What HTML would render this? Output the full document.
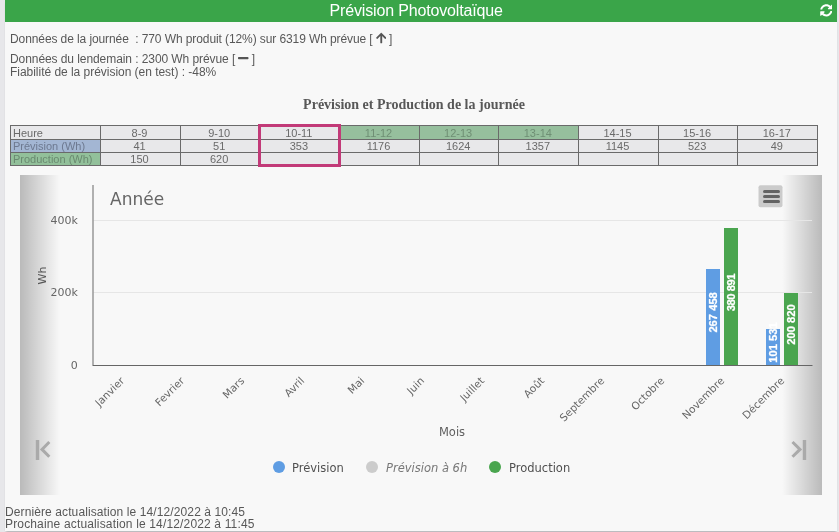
<!DOCTYPE html>
<html lang="fr">
<head>
<meta charset="utf-8">
<title>Prévision Photovoltaïque</title>
<style>
html,body{margin:0;padding:0;}
body{width:839px;height:532px;overflow:hidden;background:#e7e7ea;font-family:"Liberation Sans",Arial,sans-serif;color:#5a5a5a;font-size:12px;position:relative;}
#panel{position:absolute;left:5px;top:0;width:832px;height:531px;background:#f8f8f8;box-shadow:0 1.5px 2px -1px rgba(0,0,0,.27);will-change:transform;}
#hdr{position:absolute;left:0;top:0;width:832px;height:22px;background:#3aa549;color:#fff;text-align:center;font-size:16px;line-height:21px;}
#hdr span{position:absolute;left:324.6px;top:-0.5px;letter-spacing:-0.16px;white-space:nowrap;}
#refresh{position:absolute;left:814.8px;top:4.1px;width:12.6px;height:12.6px;}
.ln{position:absolute;left:5px;white-space:nowrap;font-size:12px;line-height:14px;color:#585858;transform-origin:0 50%;}
#ttl{position:absolute;left:0;width:818px;top:97px;text-align:center;font-family:"Liberation Serif","Times New Roman",serif;font-weight:bold;font-size:14px;line-height:16px;color:#585858;}
table{position:absolute;left:5px;top:125px;border-collapse:collapse;table-layout:fixed;width:808px;}
td{border:1px solid #6a6a6a;height:12px;padding:0;line-height:12px;font-size:11px;text-align:center;background:#e8e8ea;color:#6a6a6a;overflow:hidden;white-space:nowrap;}
td{padding-right:1.6px;}
td.h{text-align:left;padding-left:2px;padding-right:0;}
td.g{background:#96bf9d;color:#6f8f74;}
td.b{background:#a3b6d3;color:#6d7990;}
td.p{background:#92c09a;color:#6a8a70;}
#hl{position:absolute;left:253px;top:124px;width:77px;height:37px;border:3px solid #c23a78;}
#chart{position:absolute;left:15px;top:176px;width:802px;height:319px;}
#gl{position:absolute;left:15px;top:175px;width:40px;height:320px;background:linear-gradient(to right,rgba(0,0,0,.25),rgba(0,0,0,0));}
#gr{position:absolute;left:777px;top:175px;width:40px;height:320px;background:linear-gradient(to right,rgba(0,0,0,0),rgba(0,0,0,.25));}
.ic{display:inline-block;width:10.5px;height:12px;margin:0 3px 0 3px;vertical-align:-1px;fill:#555;}
.ft{position:absolute;left:0px;white-space:nowrap;font-size:12px;line-height:12px;color:#585858;transform-origin:0 50%;}
</style>
</head>
<body>
<div id="panel">
  <div id="hdr"><span>Prévision Photovoltaïque</span>
    <svg id="refresh" viewBox="0 0 512 512"><path fill="#fff" d="M370.72 133.28C339.458 104.008 298.888 87.962 255.848 88c-77.458.068-144.328 53.178-162.791 126.85-1.344 5.363-6.122 9.15-11.651 9.15H24.103c-7.498 0-13.194-6.807-11.807-14.176C33.933 94.924 134.813 8 256 8c66.448 0 126.791 26.136 171.315 68.685L463.03 40.97C478.149 25.851 504 36.559 504 57.941V192c0 13.255-10.745 24-24 24H345.941c-21.382 0-32.09-25.851-16.971-40.971l41.75-41.749zM32 296h134.059c21.382 0 32.09 25.851 16.971 40.971l-41.75 41.75c31.262 29.273 71.835 45.319 114.876 45.28 77.418-.07 144.315-53.144 162.787-126.849 1.344-5.363 6.122-9.15 11.651-9.15h57.304c7.498 0 13.194 6.807 11.807 14.176C478.067 417.076 377.187 504 256 504c-66.448 0-126.791-26.136-171.315-68.685L48.97 471.03C33.851 486.149 8 475.441 8 454.059V320c0-13.255 10.745-24 24-24z"/></svg>
  </div>
  <div class="ln" id="l1" style="top:32px;letter-spacing:-0.095px">Données de la journée&nbsp; : 770 Wh produit (12%) sur 6319 Wh prévue [<svg class="ic" viewBox="0 0 448 512"><path d="M34.9 289.5l-22.2-22.2c-9.4-9.4-9.4-24.600 0-33.900L207 39c9.400-9.400 24.600-9.400 33.900 0l194.300 194.300c9.400 9.400 9.400 24.600 0 33.900L413 289.400c-9.500 9.500-25 9.300-34.300-.4L264 168.600V456c0 13.300-10.700 24-24 24h-32c-13.300 0-24-10.700-24-24V168.600L69.200 289.100c-9.300 9.800-24.800 10-34.300.4z"/></svg>]</div>
  <div class="ln" id="l2" style="top:52px;letter-spacing:-0.075px">Données du lendemain : 2300 Wh prévue [<svg class="ic" viewBox="0 0 448 512"><path d="M416 208H32c-17.670 0-32 14.330-32 32v32c0 17.670 14.330 32 32 32h384c17.670 0 32-14.330 32-32v-32c0-17.670-14.330-32-32-32z"/></svg>]</div>
  <div class="ln" id="l3" style="top:65px;letter-spacing:-0.03px">Fiabilité de la prévision (en test) : -48%</div>
  <div id="ttl">Prévision et Production de la journée</div>
  <table>
    <colgroup><col style="width:90px"><col><col><col><col><col><col><col><col><col></colgroup>
    <tr style="height:14px"><td class="h">Heure</td><td>8-9</td><td>9-10</td><td>10-11</td><td class="g">11-12</td><td class="g">12-13</td><td class="g">13-14</td><td>14-15</td><td>15-16</td><td>16-17</td></tr>
    <tr style="height:13px"><td class="h b">Prévision (Wh)</td><td>41</td><td>51</td><td>353</td><td>1176</td><td>1624</td><td>1357</td><td>1145</td><td>523</td><td>49</td></tr>
    <tr style="height:13px"><td class="h p">Production (Wh)</td><td>150</td><td>620</td><td></td><td></td><td></td><td></td><td></td><td></td><td></td></tr>
  </table>
  <div id="hl"></div>
  <div id="gl"></div><div id="gr"></div>
  <svg id="chart" width="802" height="319" viewBox="0 0 802 319" font-family="'DejaVu Sans','Liberation Sans',sans-serif">
    <!-- gridlines -->
    <g stroke="#e6e6e6" stroke-width="1">
      <line x1="73" x2="792" y1="44.5" y2="44.5"/>
      <line x1="73" x2="792" y1="116.5" y2="116.5"/>
    </g>
    <!-- axes -->
    <line x1="73" x2="73" y1="9" y2="189" stroke="#999" stroke-width="1.5"/>
    <line x1="72.5" x2="792.5" y1="189.5" y2="189.5" stroke="#666" stroke-width="1"/>
    <!-- title -->
    <text x="90" y="29.2" font-size="17" fill="#666">Année</text>
    <!-- y labels -->
    <g font-size="11" fill="#666" text-anchor="end">
      <text x="57.8" y="48.2">400k</text>
      <text x="57.8" y="120.2">200k</text>
      <text x="57.8" y="193.2">0</text>
    </g>
    <text transform="translate(26,99.5) rotate(-90)" font-size="11" fill="#555" text-anchor="middle">Wh</text>
    <!-- bars -->
    <g>
      <rect x="686" y="93" width="14" height="96" fill="#5f9de3"/>
      <rect x="704" y="52" width="14" height="137" fill="#4aa54f"/>
      <rect x="746" y="153" width="14" height="36" fill="#5f9de3"/>
      <rect x="764" y="117" width="14" height="72" fill="#4aa54f"/>
    </g>
    <g font-family="'Liberation Sans',sans-serif" font-weight="bold" font-size="11.2" fill="#fff" stroke="#fff" stroke-width="0.25" text-anchor="middle">
      <text transform="translate(697.2,136.4) rotate(-90)">267 458</text>
      <text transform="translate(715.2,116.6) rotate(-90)" letter-spacing="-0.45">380 891</text>
      <text transform="translate(757.2,166.5) rotate(-90)">101 531</text>
      <text transform="translate(775.2,148.6) rotate(-90)">200 820</text>
    </g>
    <!-- x labels -->
    <g font-size="10.5" fill="#666" text-anchor="end">
      <text transform="translate(105,205.4) rotate(-45)">Janvier</text>
      <text transform="translate(165,205.4) rotate(-45)">Fevrier</text>
      <text transform="translate(225,205.4) rotate(-45)">Mars</text>
      <text transform="translate(285,205.4) rotate(-45)">Avril</text>
      <text transform="translate(345,205.4) rotate(-45)">Mai</text>
      <text transform="translate(405,205.4) rotate(-45)">Juin</text>
      <text transform="translate(465,205.4) rotate(-45)">Juillet</text>
      <text transform="translate(525,205.4) rotate(-45)">Août</text>
      <text transform="translate(585,205.4) rotate(-45)">Septembre</text>
      <text transform="translate(645,205.4) rotate(-45)">Octobre</text>
      <text transform="translate(705,205.4) rotate(-45)">Novembre</text>
      <text transform="translate(765,205.4) rotate(-45)">Décembre</text>
    </g>
    <text x="432" y="260" font-size="11.5" fill="#606060" text-anchor="middle">Mois</text>
    <!-- legend -->
    <g font-size="11.5">
      <circle cx="259" cy="291" r="6" fill="#5f9de3"/>
      <text x="272" y="295.5" fill="#505050">Prévision</text>
      <circle cx="352" cy="291" r="6" fill="#ccc"/>
      <text x="366" y="295.5" fill="#777" font-style="italic">Prévision à 6h</text>
      <circle cx="475" cy="291" r="6" fill="#4aa54f"/>
      <text x="489" y="295.5" fill="#505050">Production</text>
    </g>
    <!-- hamburger -->
    <rect x="738.5" y="9.3" width="24" height="22" rx="2" fill="#cbcbcb"/>
    <g stroke="#636363" stroke-width="3" stroke-linecap="round">
      <line x1="744.5" x2="758.5" y1="15.5" y2="15.5"/>
      <line x1="744.5" x2="758.5" y1="20.5" y2="20.5"/>
      <line x1="744.5" x2="758.5" y1="25.5" y2="25.5"/>
    </g>
    <!-- carousel arrows -->
    <g stroke="#aaa" stroke-width="3" fill="none">
      <line x1="17.5" x2="17.5" y1="264" y2="284" stroke-width="3.4"/>
      <polyline points="29.3,266 22,273.4 29.3,280.8"/>
      <line x1="784.5" x2="784.5" y1="264" y2="284" stroke-width="3.4"/>
      <polyline points="772.5,266 780,273.4 772.5,280.8"/>
    </g>
  </svg>
  <div class="ft" id="f1" style="top:506px;letter-spacing:0.105px">Dernière actualisation le 14/12/2022 à 10:45</div>
  <div class="ft" id="f2" style="top:518px;letter-spacing:0.155px">Prochaine actualisation le 14/12/2022 à 11:45</div>
</div>
</body>
</html>
